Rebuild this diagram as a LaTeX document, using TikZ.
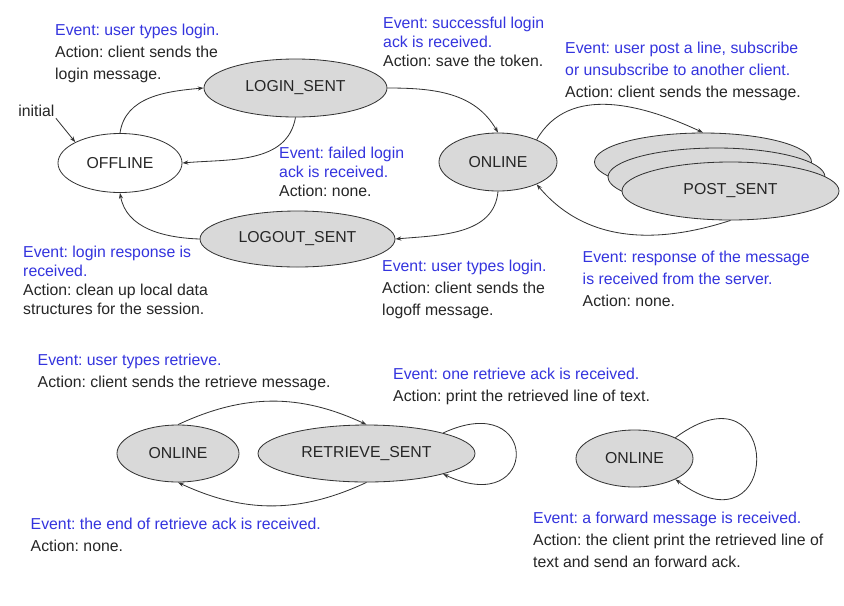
\documentclass[tikz,border=0pt]{standalone}
\usepackage{fontspec}
\setmainfont{Liberation Sans}
\usetikzlibrary{shapes.geometric,arrows.meta}
\definecolor{evblue}{RGB}{52,52,222}
\definecolor{stategray}{RGB}{217,217,217}
\newcommand{\ev}[1]{\textcolor{evblue}{#1}}
\frenchspacing

\begin{document}
\begin{tikzpicture}[x=0.03cm,y=-0.03cm,
    state/.style={ellipse,draw=black!80,fill=stategray,line width=0.7pt,inner sep=1pt,
      minimum height=1.72cm,text=black!85,font=\fontsize{13.5}{16}\selectfont},
    note/.style={anchor=north west,align=left,inner sep=0pt,text=black!85,
      font=\fontsize{13.5}{18.7}\selectfont},
    tightnote/.style={note,font=\fontsize{13.5}{16.2}\selectfont},
    trans/.style={draw=black!80,line width=0.7pt,-{Stealth[length=5pt,width=3.5pt]}}]
    \useasboundingbox[fill=white] (0,0) rectangle (844,605);

    % Login / logout cycle
    \node[state,fill=white,minimum width=3.72cm,minimum height=1.77cm] (offline) at (120,163) {OFFLINE};
    \node[state,minimum width=5.49cm,minimum height=1.74cm] (loginsent) at (295.5,88) {LOGIN\_SENT};
    \node[state,minimum width=5.85cm,minimum height=1.68cm] (logoutsent) at (297.5,239) {LOGOUT\_SENT};
    \node[state,minimum width=3.54cm,minimum height=1.74cm] (online) at (498,162) {ONLINE};
    % stacked POST_SENT states
    \node[state,minimum width=6.51cm,minimum height=1.74cm] (postback) at (703,162) {};
    \node[state,minimum width=6.51cm,minimum height=1.74cm] (postmid) at (716.5,177) {};
    \node[state,minimum width=6.51cm,minimum height=1.74cm] (postsent) at (730.5,191) {POST\_SENT};

    \node[inner sep=1pt,anchor=west,text=black!85,font=\fontsize{13.5}{16}\selectfont] (initlabel) at (17,111) {initial};

    \draw[trans] (initlabel.south east) -- (offline.155);
    \draw[trans] (offline.north) to[out=82,in=185] (loginsent.west);
    \draw[trans] (loginsent.south) to[out=-100,in=5] (offline.east);
    \draw[trans] (loginsent.east) to[out=0,in=120] (online.north);
    \draw[trans] (online.south) to[out=-95,in=5] (logoutsent.east);
    \draw[trans] (logoutsent.west) to[out=178,in=-80] (offline.south);
    \draw[trans] (online.30) to[out=60,in=155] (postback.north);
    \draw[trans] (postsent.south) to[out=198,in=-50] (online.-30);

    \node[note] (evlogin) at (55,24) {\ev{Event: user types login.}\\ Action: client sends the\\ login message.};
    \node[tightnote] (evsuccess) at (383,16.5) {\ev{Event: successful login}\\ \ev{ack is received.}\\ Action: save the token.};
    \node[note] (evpost) at (565,42) {\ev{Event: user post a line, subscribe}\\ \ev{or unsubscribe to another client.}\\ Action: client sends the message.};
    \node[tightnote] (evfailed) at (279,146.5) {\ev{Event: failed login}\\ \ev{ack is received.}\\ Action: none.};
    \node[tightnote] (evresponse) at (23,245.5) {\ev{Event: login response is}\\ \ev{received.}\\ Action: clean up local data\\ structures for the session.};
    \node[note] (evlogoff) at (382,259.5) {\ev{Event: user types login.}\\ Action: client sends the\\ logoff message.};
    \node[note] (evmsgresp) at (582.5,251) {\ev{Event: response of the message}\\ \ev{is received from the server.}\\ Action: none.};

    % Retrieve and forward
    \node[state,minimum width=3.66cm,minimum height=1.71cm] (onlineret) at (178,453.5) {ONLINE};
    \node[state,minimum width=6.51cm,minimum height=1.71cm] (retrievesent) at (366.5,453.5) {RETRIEVE\_SENT};
    \node[state,minimum width=3.51cm,minimum height=1.71cm] (onlinefwd) at (634.5,458.5) {ONLINE};

    \draw[trans] (onlineret.north) to[bend left=25] (retrievesent.north);
    \draw[trans] (retrievesent.south) to[bend left=25] (onlineret.south);
    \draw[trans] (retrievesent.15) .. controls +(97,-45) and +(97,45) .. (retrievesent.-15);
    \draw[trans] (onlinefwd.27) .. controls +(108,-80) and +(108,80) .. (onlinefwd.-27);

    \node[note] (evretrieve) at (37.5,354) {\ev{Event: user types retrieve.}\\ Action: client sends the retrieve message.};
    \node[note] (evoneack) at (393,368) {\ev{Event: one retrieve ack is received.}\\ Action: print the retrieved line of text.};
    \node[note] (evendack) at (30.5,518) {\ev{Event: the end of retrieve ack is received.}\\ Action: none.};
    \node[note] (evforward) at (533,511.5) {\ev{Event: a forward message is received.}\\ Action: the client print the retrieved line of\\ text and send an forward ack.};
\end{tikzpicture}
\end{document}
